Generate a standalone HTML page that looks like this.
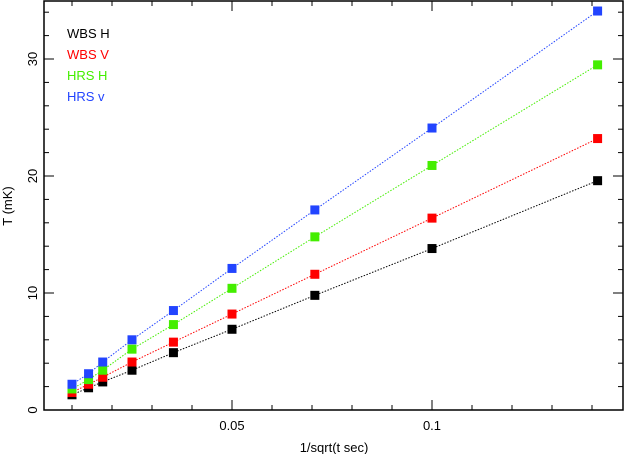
<!DOCTYPE html>
<html><head><meta charset="utf-8"><style>
body{margin:0;background:#fff}
svg{display:block;font-family:"Liberation Sans",sans-serif}
</style></head><body>
<svg id="c" width="624" height="454"></svg>
<script>
const xs=[0.01,0.01414,0.01768,0.025,0.03536,0.05,0.07071,0.1,0.1414];
const seriesNames=["WBS H","WBS V","HRS H","HRS v"];
const colors=["#000000","#ff0000","#44ee00","#2244ff"];
const wbsH=[1.3,1.9,2.4,3.4,4.9,6.9,9.8,13.8,19.6];
const wbsV=[1.5,2.2,2.8,4.1,5.8,8.2,11.6,16.4,23.2];
const hrsH=[1.8,2.6,3.4,5.2,7.3,10.4,14.8,20.9,29.5];
const hrsV=[2.2,3.1,4.1,6.0,8.5,12.1,17.1,24.1,34.1];
const xTicks=[0.05,0.1];
const yTicks=[0,10,20,30];
const NS="http://www.w3.org/2000/svg";
const svg=document.getElementById('c');
const L=44,R=623,T=1,B=410;
const X=v=>32+v*4000;
const Y=v=>410-v*11.7;
function el(t,a,p){const e=document.createElementNS(NS,t);for(const k in a)e.setAttribute(k,a[k]);(p||svg).appendChild(e);return e;}
const fr=el('rect',{x:L,y:T,width:R-L,height:B-T,fill:'none',stroke:'#000','stroke-width':1.5});


for(let v=0.01;v<0.146;v+=0.01){const big=Math.abs(v/0.05-Math.round(v/0.05))<1e-6;const len=big?10:5;
el('line',{x1:X(v),x2:X(v),y1:B,y2:B-len,stroke:'#000'});el('line',{x1:X(v),x2:X(v),y1:T,y2:T+len,stroke:'#000'});}
for(let v=0;v<=35;v+=2){const big=v%10==0;const len=big?10:5;
el('line',{x1:L,x2:L+len,y1:Y(v),y2:Y(v),stroke:'#000'});el('line',{x1:R,x2:R-len,y1:Y(v),y2:Y(v),stroke:'#000'});}
xTicks.forEach(v=>{const t=el('text',{x:X(v),y:430,'font-size':13,'text-anchor':'middle'});t.textContent=String(v);

});
yTicks.forEach(v=>{const t=el('text',{x:37,y:Y(v),'font-size':13,'text-anchor':'middle',transform:`rotate(-90 37 ${Y(v)})`});t.textContent=String(v);

});
const xt=el('text',{x:334,y:452,'font-size':13,'text-anchor':'middle'});xt.textContent='1/sqrt(t sec)';


const yt=el('text',{x:12,y:206,'font-size':13,'text-anchor':'middle',transform:'rotate(-90 12 206)'});yt.textContent='T (mK)';


[wbsH,wbsV,hrsH,hrsV].forEach((s,i)=>{
 const g=el('g',{});
 
 
 el('polyline',{points:s.map((v,j)=>X(xs[j])+','+Y(v)).join(' '),fill:'none',stroke:colors[i],'stroke-width':1,'stroke-dasharray':'1.5,1.5'},g);
 s.forEach((v,j)=>{const r=el('rect',{x:X(xs[j])-4.5,y:Y(v)-4.5,width:9,height:9,fill:colors[i]},g);
 
 });
 const t=el('text',{x:67,y:38+i*21,'font-size':13,fill:colors[i]});t.textContent=seriesNames[i];
 
 
});
</script>
</body></html>
